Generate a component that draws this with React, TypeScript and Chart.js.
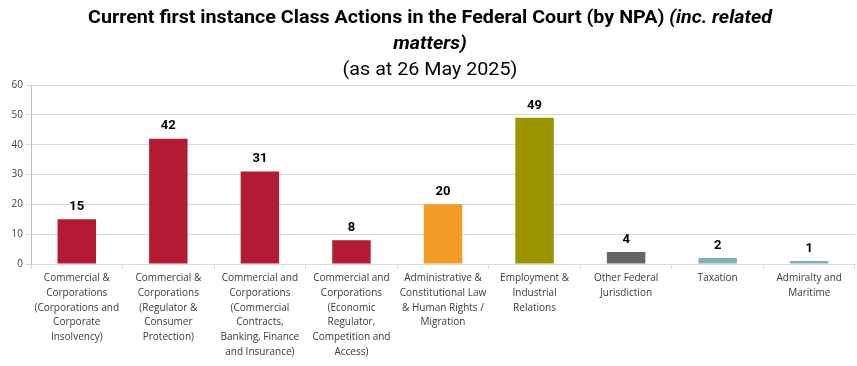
import React, { useEffect, useRef } from "react";
import { Chart, registerables } from "chart.js";

Chart.register(...registerables);

const categories: string[][] = [
  ["Commercial &", "Corporations", "(Corporations and", "Corporate", "Insolvency)"],
  ["Commercial &", "Corporations", "(Regulator &", "Consumer", "Protection)"],
  ["Commercial and", "Corporations", "(Commercial", "Contracts,", "Banking, Finance", "and Insurance)"],
  ["Commercial and", "Corporations", "(Economic", "Regulator,", "Competition and", "Access)"],
  ["Administrative &", "Constitutional Law", "& Human Rights /", "Migration"],
  ["Employment &", "Industrial", "Relations"],
  ["Other Federal", "Jurisdiction"],
  ["Taxation"],
  ["Admiralty and", "Maritime"],
];
const values: number[] = [15, 42, 31, 8, 20, 49, 4, 2, 1];
const barColors: string[] = [
  "#B31B34", "#B31B34", "#B31B34", "#B31B34",
  "#F09C26", "#999400", "#646469", "#7FB1B8", "#7FB1B8",
];
const yTicks: number[] = [0, 10, 20, 30, 40, 50, 60];

const titleLine1Bold = "Current first instance Class Actions in the Federal Court (by NPA) ";
const titleLine1Italic = "(inc. related";
const titleLine2Italic = "matters)";
const titleLine3 = "(as at 26 May 2025)";

const FONT = "'Open Sans', 'DejaVu Sans', sans-serif";
const TFONT = "'Roboto', sans-serif";

const titlePlugin = {
  id: "richTitle",
  afterDraw(chart: any) {
    const ctx = chart.ctx as CanvasRenderingContext2D;
    const cx = 430;
    ctx.save();
    ctx.fillStyle = "#000000";
    ctx.textBaseline = "middle";
    ctx.textAlign = "left";
    const bold = `bold 19px ${TFONT}`;
    const boldIt = `italic bold 19px ${TFONT}`;
    ctx.font = bold;
    const w1 = ctx.measureText(titleLine1Bold).width;
    ctx.font = boldIt;
    const w2 = ctx.measureText(titleLine1Italic).width;
    const total = w1 + w2;
    const target = 684;
    const scale = target / total;
    const x0 = cx - (total * scale) / 2;
    ctx.save();
    ctx.translate(x0, 18);
    ctx.scale(scale, 1);
    ctx.font = bold;
    ctx.fillText(titleLine1Bold, 0, 0);
    ctx.font = boldIt;
    ctx.fillText(titleLine1Italic, w1, 0);
    ctx.restore();
    ctx.font = boldIt;
    const w3 = ctx.measureText(titleLine2Italic).width;
    ctx.save();
    ctx.translate(cx - (w3 * scale) / 2, 44);
    ctx.scale(scale, 1);
    ctx.fillText(titleLine2Italic, 0, 0);
    ctx.restore();
    ctx.font = `19px ${TFONT}`;
    const w4 = ctx.measureText(titleLine3).width;
    ctx.save();
    ctx.translate(cx - (w4 * scale) / 2, 70);
    ctx.scale(scale, 1);
    ctx.fillText(titleLine3, 0, 0);
    ctx.restore();
    ctx.restore();
  },
};

const valueLabelPlugin = {
  id: "valueLabels",
  afterDatasetsDraw(chart: any) {
    const ctx = chart.ctx as CanvasRenderingContext2D;
    const meta = chart.getDatasetMeta(0);
    ctx.save();
    ctx.font = `bold 13px ${TFONT}`;
    ctx.fillStyle = "#000000";
    ctx.textAlign = "center";
    ctx.textBaseline = "bottom";
    meta.data.forEach((el: any, i: number) => {
      ctx.fillText(String(values[i]), el.x, el.y - 6);
    });
    ctx.restore();
  },
};

export default function App() {
  const ref = useRef<HTMLCanvasElement>(null);
  useEffect(() => {
    document.body.style.margin = "0";
    const chart = new Chart(ref.current as HTMLCanvasElement, {
      type: "bar",
      data: {
        labels: categories as any,
        datasets: [
          {
            data: values,
            backgroundColor: barColors,
            categoryPercentage: 1,
            barPercentage: 0.42,
          },
        ],
      },
      options: {
        animation: false,
        responsive: false,
        maintainAspectRatio: false,
        layout: { padding: { top: 85, right: 2, left: 0, bottom: 0 } },
        plugins: {
          legend: { display: false },
          title: { display: false },
          tooltip: { enabled: false },
        },
        scales: {
          x: {
            grid: {
              offset: true,
              drawOnChartArea: false,
              tickLength: 5,
              color: "#D9D9D9",
            },
            border: { color: "#D9D9D9" },
            ticks: {
              color: "#3A3A3A",
              font: { family: FONT, size: 10, lineHeight: 1.47 },
              maxRotation: 0,
              autoSkip: false,
              padding: 2,
            },
            afterFit(scale: any) {
              scale.height = 102;
            },
          },
          y: {
            min: 0,
            max: 60,
            afterBuildTicks(scale: any) {
              scale.ticks = yTicks.map((v) => ({ value: v }));
            },
            grid: { color: "#D9D9D9", tickLength: 5 },
            border: { color: "#BFBFBF" },
            ticks: {
              color: "#404040",
              font: { family: FONT, size: 10 },
              padding: 3,
            },
            afterFit(scale: any) {
              scale.width = 31;
            },
          },
        },
      },
      plugins: [titlePlugin, valueLabelPlugin],
    });
    return () => chart.destroy();
  }, []);
  return (
    <div style={{ position: "fixed", left: 0, top: 0, width: 857, height: 366, background: "#fff" }}>
      <canvas ref={ref} width={857} height={366} style={{ width: 857, height: 366 }} />
    </div>
  );
}
